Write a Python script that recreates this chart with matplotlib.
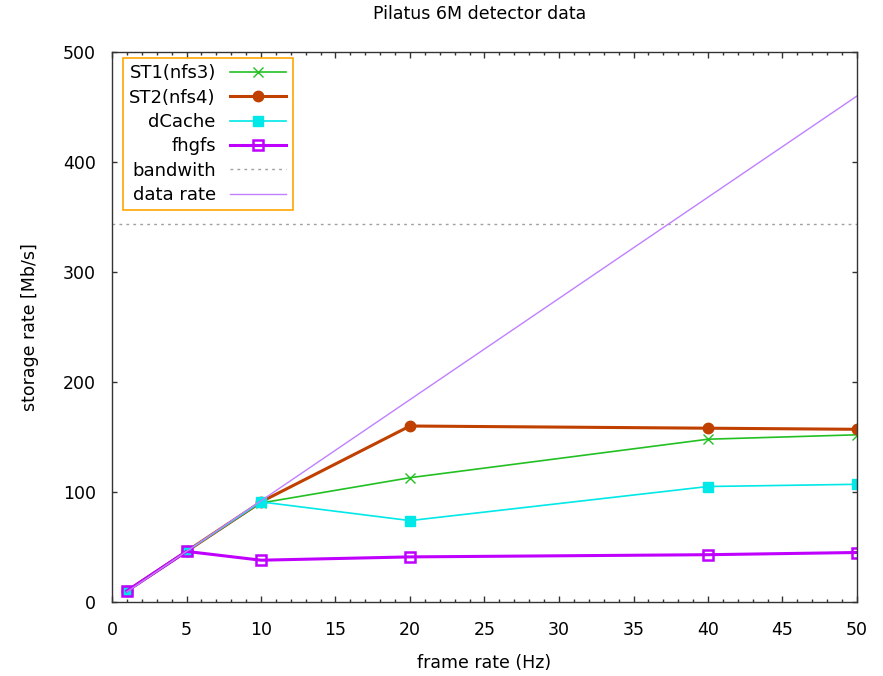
import matplotlib
matplotlib.use('Agg')
import matplotlib.pyplot as plt
from matplotlib.ticker import MultipleLocator

plt.rcParams['font.family'] = ['DejaVu Sans']

# frame rates (Hz)
fr = [1, 5, 10, 20, 40, 50]
st1 = [10, 46, 90, 113, 148, 152]
st2 = [10, 46, 91, 160, 158, 157]
dcache = [10, 46, 91, 74, 105, 107]
fhgfs = [10, 46, 38, 41, 43, 45]
bandwith = 344
data_rate = [9.2 * f for f in fr]  # 9.2 Mb per frame

fig = plt.figure(figsize=(8.83, 6.76), dpi=100)
ax = fig.add_axes([112 / 883, 74 / 676, 745 / 883, 550 / 676])

ax.plot(fr, st1, color='#22c022', lw=1.2, marker='x', ms=7, mew=1, label='ST1(nfs3)')
ax.plot(fr, st2, color='#c04000', lw=2.2, marker='o', ms=7.5, label='ST2(nfs4)')
ax.plot(fr, dcache, color='#00e8e8', lw=1.2, marker='s', ms=6.5, label='dCache')
ax.plot(fr, fhgfs, color='#c000ff', lw=2.2, marker='s', ms=7.5, mfc='none', mew=1.8, label='fhgfs')
ax.plot([0, 50], [bandwith, bandwith], color='#a0a0a0', lw=1, ls=(0, (2, 3)), label='bandwith')
ax.plot(fr, data_rate, color='#c080ff', lw=1, label='data rate')

ax.set_xlim(0, 50)
ax.set_ylim(0, 500)
ax.xaxis.set_major_locator(MultipleLocator(5))
ax.xaxis.set_minor_locator(MultipleLocator(1))
ax.yaxis.set_major_locator(MultipleLocator(100))
ax.tick_params(which='both', direction='in', top=True, right=True, labelsize=12.5,
               color='#333333', width=1)
ax.tick_params(axis='x', which='major', length=4.5, pad=14)
ax.tick_params(axis='x', which='minor', length=2.5)
ax.tick_params(axis='y', which='major', length=3.5, pad=11.5)
for s in ax.spines.values():
    s.set_linewidth(1)
    s.set_color('#333333')

ax.set_xlabel('frame rate (Hz)', fontsize=12.5)
ax.set_ylabel('storage rate [Mb/s]', fontsize=12.5)
ax.xaxis.set_label_coords(0.5, -0.111)
ax.yaxis.set_label_coords(-0.11, 0.5)
ax.xaxis.label.set_va('center')
ax.yaxis.label.set_va('center')
fig.text(480 / 883, 1 - 14 / 676, 'Pilatus 6M detector data', fontsize=12.5,
         ha='center', va='center')

leg = ax.legend(loc='upper left', bbox_to_anchor=(11 / 745, 1 - 6 / 550), markerfirst=False,
                fontsize=13, fancybox=False, framealpha=1, borderaxespad=0,
                handlelength=3.1, handletextpad=0.8, labelspacing=0.35, borderpad=0.35)
leg.get_frame().set_edgecolor('#ffa500')
leg.get_frame().set_linewidth(1.2)
for t in leg.get_texts():
    t.set_ha('right')

fig.savefig('out.png', dpi=100)
